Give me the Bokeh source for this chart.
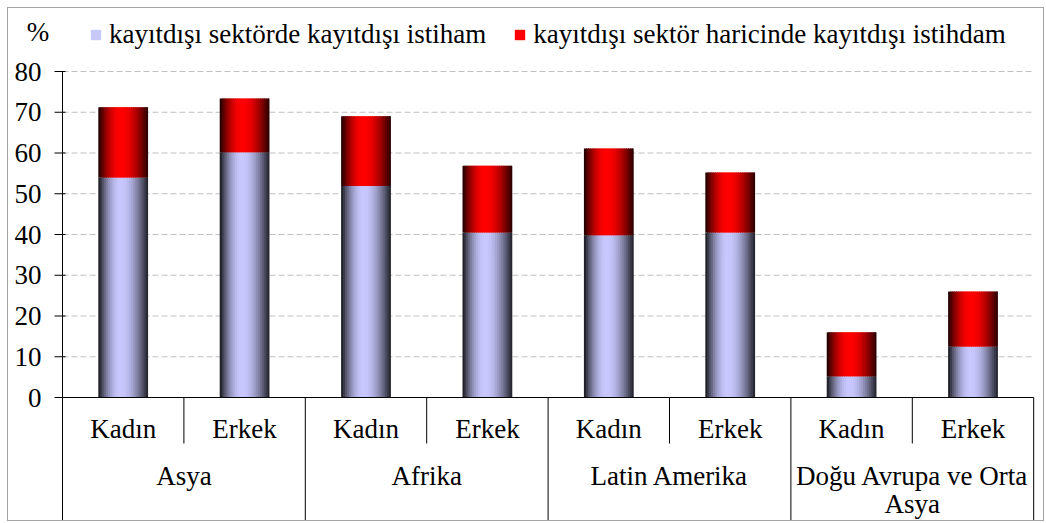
import numpy as np
from bokeh.plotting import figure
from bokeh.models import Range1d, Legend, LegendItem, ColumnDataSource
from bokeh.core.properties import value
from bokeh.embed import file_html
from bokeh.resources import INLINE

# ---------------- data ----------------
regions = ["Asya", "Afrika", "Latin Amerika", "Doğu Avrupa ve Orta\nAsya"]
sexes = ["Kadın", "Erkek"]
in_sector = [54.0, 60.2, 51.9, 40.5, 39.8, 40.5, 5.2, 12.5]
outside_sector = [17.2, 13.2, 17.1, 16.4, 21.3, 14.7, 10.8, 13.5]
series_names = ["kayıtdışı sektörde kayıtdışı istiham",
                "kayıtdışı sektör haricinde kayıtdışı istihdam"]
y_ticks = [0, 10, 20, 30, 40, 50, 60, 70, 80]
y_unit = "%"

# ---------------- layout ----------------
W, H = 1035, 512
AXIS_PX = 54            # pixel column of the value axis
PX_PER_UNIT = 4.075
TOP_PX = 63             # pixel row of the value 80
Y_MAX = y_ticks[-1]
SLOT_PX = 121.4
n_slots = len(regions) * len(sexes)
SERIF = "Liberation Serif"
FONT = value(SERIF)
FS = "27px"


def py(px):  # pixel row -> data y
    return Y_MAX - (px - TOP_PX) / PX_PER_UNIT


def px_x(px):  # pixel column -> data x
    return (px - AXIS_PX) / SLOT_PX


y_bot, y_top = py(H), py(0)

p = figure(width=W, height=H, output_backend="svg", toolbar_location=None,
           x_range=Range1d(px_x(0), px_x(W)), y_range=Range1d(y_bot, y_top),
           min_border=0)
p.margin = (8, 0, 0, 8)
p.styles = {"outline": "1px solid #a3a3a3", "outline-offset": "0px"}
p.outline_line_color = None
p.background_fill_color = "white"
p.border_fill_color = "white"
p.xaxis.visible = False
p.yaxis.visible = False
p.xgrid.visible = False
p.ygrid.visible = False

# ---------------- grid ----------------
grid_y = y_ticks[1:]
p.segment(x0=[0] * len(grid_y), y0=grid_y, x1=[n_slots] * len(grid_y), y1=grid_y,
          line_color="#c0c0c0", line_width=1, line_dash="6 3")


# ---------------- gradient bars ----------------
def profile(t):
    t0 = 0.45
    if t <= t0:
        return 0.08 + 0.92 * np.sin(np.pi / 2 * t / t0) ** 0.9
    return 0.15 + 0.85 * np.cos(np.pi / 2 * (t - t0) / (1 - t0))


def hexcol(rgb, f):
    r, g, b = [int(round(max(0, min(255, c * f)))) for c in rgb]
    return "#%02x%02x%02x" % (r, g, b)


BAR_W = 0.41
N = 26
centers = np.arange(n_slots) + 0.5
totals = [a + b for a, b in zip(in_sector, outside_sector)]


def strips(bottoms, tops, rgb):
    d = dict(left=[], right=[], bottom=[], top=[], color=[])
    dw = BAR_W / N
    for c, b0, t0 in zip(centers, bottoms, tops):
        x0 = c - BAR_W / 2
        for i in range(N):
            t = (i + 0.5) / N
            d["left"].append(x0 + i * dw)
            d["right"].append(min(x0 + (i + 1.7) * dw, x0 + BAR_W))
            d["bottom"].append(b0)
            d["top"].append(t0)
            d["color"].append(hexcol(rgb, profile(t)))
    return ColumnDataSource(d)


src_in = strips([0] * n_slots, in_sector, (200, 200, 255))
src_out = strips(in_sector, totals, (255, 0, 0))
r_in = p.quad(left="left", right="right", bottom="bottom", top="top",
              fill_color="color", line_color=None, source=src_in)
r_out = p.quad(left="left", right="right", bottom="bottom", top="top",
               fill_color="color", line_color=None, source=src_out)

# ---------------- value axis ----------------
p.segment(x0=[0], y0=[Y_MAX], x1=[0], y1=[y_bot], line_color="black", line_width=1)
p.segment(x0=[px_x(AXIS_PX - 8)] * len(y_ticks), y0=y_ticks,
          x1=[px_x(AXIS_PX + 3)] * len(y_ticks), y1=y_ticks,
          line_color="black", line_width=1)
p.text(x=[px_x(AXIS_PX - 21)] * len(y_ticks), y=y_ticks,
       text=[str(t) for t in y_ticks], text_font=FONT, text_font_size=FS,
       text_color="black", text_align="right", text_baseline="middle")
p.text(x=[px_x(29.5)], y=[py(23)], text=[y_unit], text_font=FONT,
       text_font_size=FS, text_color="black", text_align="center",
       text_baseline="middle")

# ---------------- category axis ----------------
p.segment(x0=[0], y0=[0], x1=[n_slots], y1=[0], line_color="black", line_width=1)
sep_x = list(range(1, n_slots + 1))
sep_bottom = [y_bot if k % len(sexes) == 0 else py(435) for k in sep_x]
p.segment(x0=sep_x, y0=[0] * len(sep_x), x1=sep_x, y1=sep_bottom,
          line_color="black", line_width=1)

sex_labels = [sexes[i % len(sexes)] for i in range(n_slots)]
p.text(x=list(centers), y=[py(420)] * n_slots, text=sex_labels,
       text_font=FONT, text_font_size=FS, text_color="black",
       text_align="center", text_baseline="middle")

LINE_PX = 28
gx, gy, gt = [], [], []
for g, name in enumerate(regions):
    for k, line in enumerate(name.split("\n")):
        gx.append(len(sexes) * (g + 0.5))
        gy.append(py(467 + LINE_PX * k))
        gt.append(line)
p.text(x=gx, y=gy, text=gt, text_font=FONT, text_font_size=FS,
       text_color="black", text_align="center", text_baseline="middle")

# ---------------- legend ----------------
legend = Legend(items=[LegendItem(label=series_names[0], renderers=[r_in], index=11),
                       LegendItem(label=series_names[1], renderers=[r_out], index=11)],
                orientation="horizontal", location=(81, H - 12 - 30),
                border_line_color=None, background_fill_alpha=0,
                padding=0, margin=0, spacing=27,
                glyph_width=13, glyph_height=13, label_standoff=7,
                label_text_font=SERIF, label_text_font_size=FS,
                label_text_color="black")
p.add_layout(legend)

open("out.html", "w").write(file_html(p, INLINE))
